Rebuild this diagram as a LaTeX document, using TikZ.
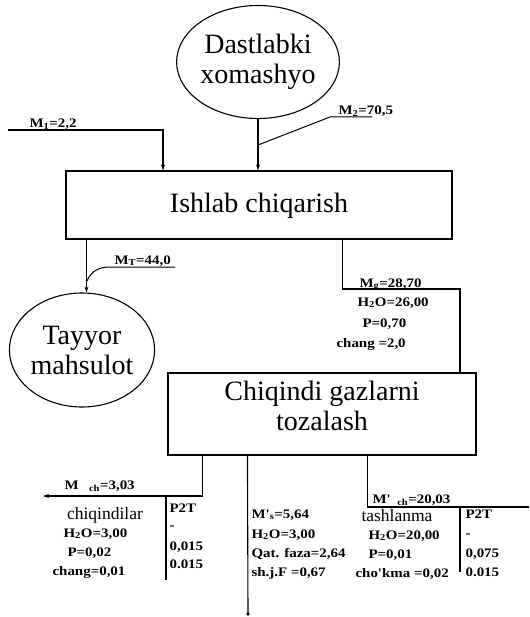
\documentclass[tikz,border=0pt]{standalone}
\usepackage{fontspec}
\setmainfont{Liberation Serif}
\newfontfamily\labfont[FakeStretch=1.15]{Liberation Serif}
\usetikzlibrary{shapes.geometric,arrows.meta,calc}

\begin{document}
\begin{tikzpicture}[x=1pt,y=-1pt,
  line width=1.1pt,
  arr/.style={-{Stealth[length=6pt,width=4pt]}},
  leader/.style={line width=1pt},
  mainfont/.style={font=\fontsize{28}{30}\selectfont,align=center,inner sep=0pt},
  procbox/.style={draw,rectangle,inner sep=0pt},
  stock/.style={draw,ellipse,inner sep=0pt,font=\fontsize{28}{30}\selectfont,align=center},
  lab/.style={inner sep=0pt,anchor=base west,font=\labfont\bfseries\fontsize{13}{15}\selectfont},
  bigl/.style={inner sep=0pt,anchor=base,font=\fontsize{17.5}{20}\selectfont}]

\useasboundingbox (0,0) rectangle (529,617);

% --- main blocks ---
\node[stock,minimum width=135pt,minimum height=113pt] (src) at (258,62) {Dastlabki\\xomashyo};
\node[procbox,minimum width=386pt,minimum height=68pt] (prod) at (259,205) {};
\node[mainfont] (prodtxt) at (259,205.5) {Ishlab chiqarish};
\node[stock,minimum width=137pt,minimum height=114pt] (tay) at (82,350) {Tayyor\\mahsulot};
\node[procbox,minimum width=308pt,minimum height=82pt] (clean) at (322,414) {};
\node[mainfont] (cleantxt) at (322,405.5) {Chiqindi gazlarni\\tozalash};

% --- inputs to production ---
\draw[arr] (src.south) -- (src.south |- prod.north);
\coordinate (in1) at (8,130);
\coordinate (in1d) at (163,130);
\draw[arr] (in1) -- (in1d) -- (in1d |- prod.north);
\node[lab] (m1) at (29,128) {M\textsubscript{1}=2,2};

\coordinate (l2a) at (258,145);
\coordinate (l2b) at (330,117);
\coordinate (l2c) at (372,117);
\draw[leader] (l2a) -- (l2b) -- (l2c);
\node[lab] (m2) at (338,115) {M\textsubscript{2}=70,5};

% --- finished product ---
\coordinate (t1) at ($(prod.south west)+(21,0)$);
\draw[arr] (t1) -- (t1 |- tay.north);
\coordinate (lta) at (87,281);
\coordinate (ltb) at (110,267);
\coordinate (ltc) at (175,267);
\draw[leader] (lta) .. controls (91,271) and (99,267) .. (ltb) -- (ltc);
\node[lab] (mt) at (114,264) {M\textsubscript{T}=44,0};

% --- gases to cleaning ---
\coordinate (g1) at ($(prod.south west)+(277,0)$);
\coordinate (g2) at (460,289);
\draw (g1) |- (g2) -- (g2 |- clean.north);
\node[lab] (mg) at (359,287) {M\textsubscript{g}=28,70};
\node[lab] (gw) at (357,306) {H\textsubscript{2}O=26,00};
\node[lab] (gp) at (362,327) {P=0,70};
\node[lab] (gc) at (336,347) {chang =2,0};

% --- outputs of cleaning ---
\coordinate (c1) at ($(clean.south west)+(35,0)$);
\coordinate (o1) at (43,496);
\draw[arr] (c1) |- (o1);
\node[lab] (mch) at (64,489) {M\hspace{0.8em}\textsubscript{ch}=3,03};
\coordinate (s1a) at (166,496);
\coordinate (s1b) at (166,580);
\draw (s1a) -- (s1b);
\node[bigl] (chq) at (105,519) {chiqindilar};
\node[lab] (chw) at (63,537) {H\textsubscript{2}O=3,00};
\node[lab] (chp) at (67,556) {P=0,02};
\node[lab] (chc) at (52,575) {chang=0,01};
\node[lab] (pt1) at (169,512) {P2T};
\node[lab] (pt1a) at (169,529) {-};
\node[lab] (pt1b) at (169,550) {0,015};
\node[lab] (pt1c) at (169,568) {0.015};

\coordinate (c2) at ($(clean.south west)+(80,0)$);
\coordinate (o2) at (248,614);
\draw (c2) -- (o2);
\fill (o2) circle (1.8);
\node[lab] (ms) at (251,518) {M'\textsubscript{s}=5,64};
\node[lab] (sw) at (251,538) {H\textsubscript{2}O=3,00};
\node[lab] (sq) at (251,557) {Qat. faza=2,64};
\node[lab] (sf) at (251,576) {sh.j.F =0,67};

\coordinate (c3) at ($(clean.south west)+(200,0)$);
\coordinate (o3) at (529,507);
\draw (c3) |- (o3);
\node[lab] (mr) at (372,503) {M'\hspace{0.5em}\textsubscript{ch}=20,03};
\node[bigl] (tsh) at (397,521) {tashlanma};
\node[lab] (tw) at (368,539) {H\textsubscript{2}O=20,00};
\node[lab] (tp) at (368,558) {P=0,01};
\node[lab] (tc) at (355,577) {cho'kma =0,02};
\coordinate (s2a) at (460,507);
\coordinate (s2b) at (460,572);
\draw (s2a) -- (s2b);
\node[lab] (pt2) at (465,518) {P2T};
\node[lab] (pt2a) at (465,537) {-};
\node[lab] (pt2b) at (465,557) {0,075};
\node[lab] (pt2c) at (465,576) {0.015};

\end{tikzpicture}
\end{document}
